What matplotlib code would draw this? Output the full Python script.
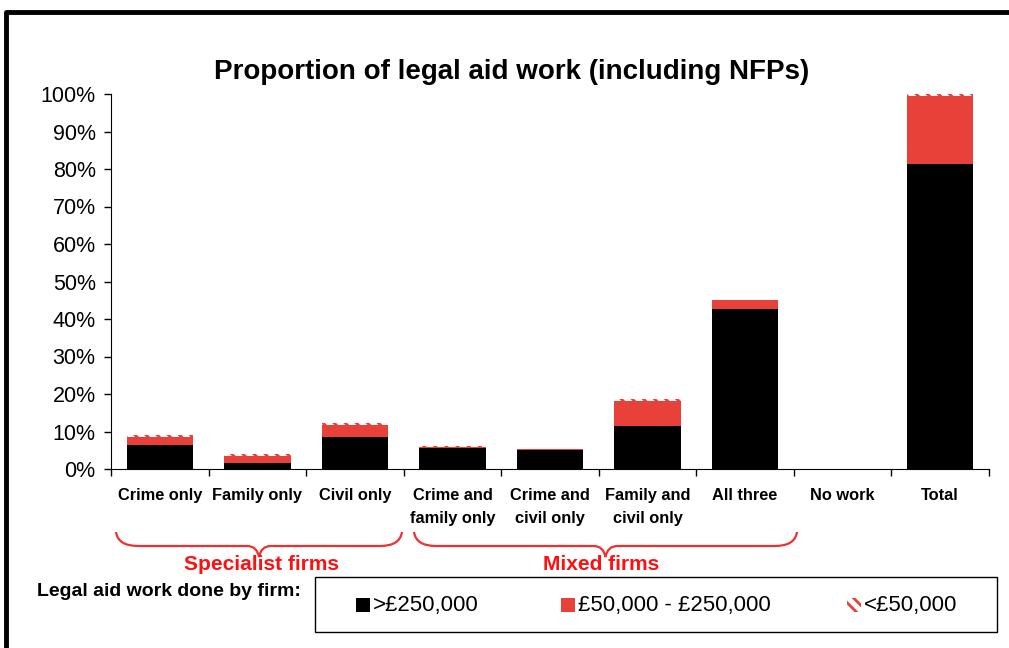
import numpy as np
import matplotlib
matplotlib.use("Agg")
import matplotlib.pyplot as plt
from matplotlib.path import Path
from matplotlib.patches import PathPatch, Rectangle
from matplotlib.ticker import PercentFormatter, FixedLocator

plt.rcParams['font.family'] = ['Liberation Sans', 'DejaVu Sans']

categories = ["Crime only", "Family only", "Civil only", "Crime and\nfamily only",
              "Crime and\ncivil only", "Family and\ncivil only", "All three",
              "No work", "Total"]
over_250k = [6.4, 1.6, 8.5, 5.6, 5.1, 11.5, 42.7, 0.0, 81.3]
mid_50k_250k = [2.1, 1.9, 3.2, 0.3, 0.2, 6.6, 2.3, 0.0, 18.2]
under_50k = [0.5, 0.5, 0.5, 0.3, 0.0, 0.5, 0.0, 0.0, 0.5]
group_labels = ["Specialist firms", "Mixed firms"]
legend_labels = [">£250,000", "£50,000 - £250,000", "<£50,000"]

RED = "#E8413A"
BRACE_RED = "#F03030"
W, H = 1009, 648

fig = plt.figure(figsize=(W / 100, H / 100), dpi=100)
ax = fig.add_axes([111 / W, 1 - 469 / H, (989 - 111) / W, (469 - 94) / H])

x = np.arange(len(categories))
bw = 0.68
b1 = np.array(over_250k)
b2 = b1 + np.array(mid_50k_250k)
ax.bar(x, over_250k, bw, color="black", linewidth=0)
ax.bar(x, mid_50k_250k, bw, bottom=b1, color=RED, linewidth=0)
plt.rcParams['hatch.linewidth'] = 2.0
ax.bar(x, under_50k, bw, bottom=b2, color="white", edgecolor=RED,
       hatch="\\\\\\", linewidth=0)

ax.set_xlim(-0.5, len(categories) - 0.5)
ax.set_ylim(0, 100)
ax.set_yticks(np.arange(0, 101, 10))
ax.yaxis.set_major_formatter(PercentFormatter(decimals=0))
ax.tick_params(axis='y', labelsize=15.5, direction='out', length=5, width=1, pad=6)
ax.xaxis.set_major_locator(FixedLocator(np.arange(-0.5, len(categories), 1)))
ax.xaxis.set_minor_locator(FixedLocator(x))
ax.tick_params(axis='x', which='major', labelbottom=False, direction='out', length=5, width=1)
ax.tick_params(axis='x', which='minor', length=0, pad=14)
ax.set_xticks(x, categories, minor=True, fontsize=11.8, fontweight='bold', linespacing=1.6, va='top')
for s in ["top", "right"]:
    ax.spines[s].set_visible(False)

fig.text(512 / W, 1 - 72 / H, "Proportion of legal aid work (including NFPs)",
         ha='center', va='center', fontsize=20, fontweight='bold')


def brace(x0, x1, ytop, ymid, ytip):
    # curly brace drawn in pixel space, then moved to figure fraction
    xc = (x0 + x1) / 2
    pts = [(x0, ytop), (x0 + 2, ymid), (x0 + 22, ymid), (xc - 12, ymid),
           (xc - 2, ymid), (xc, ytip), (xc + 2, ymid), (xc + 12, ymid),
           (x1 - 22, ymid), (x1 - 2, ymid), (x1, ytop)]
    codes = [Path.MOVETO, Path.CURVE3, Path.CURVE3, Path.LINETO,
             Path.CURVE3, Path.CURVE3, Path.CURVE3, Path.CURVE3,
             Path.LINETO, Path.CURVE3, Path.CURVE3]
    verts = [(px / W, 1 - py / H) for px, py in pts]
    fig.add_artist(PathPatch(Path(verts, codes), transform=fig.transFigure,
                             fill=False, edgecolor=BRACE_RED, linewidth=1.6))


brace(116, 402, 532, 546, 557)
brace(414, 797, 532, 546, 557)
fig.text(262 / W, 1 - 564 / H, group_labels[0], color="#FF1010", fontsize=15,
         fontweight='bold', ha='center', va='center')
fig.text(601 / W, 1 - 564 / H, group_labels[1], color="#FF1010", fontsize=15,
         fontweight='bold', ha='center', va='center')

# legend
fig.text(37 / W, 1 - 592 / H, "Legal aid work done by firm:", fontsize=14,
         fontweight='bold', ha='left', va='center')
fig.add_artist(Rectangle((315 / W, 1 - 632 / H), (997 - 315) / W, (632 - 577) / H,
                         transform=fig.transFigure, fill=False, edgecolor="black", linewidth=1))
sq = 14
leg_x = [356, 561, 847]
styles = [dict(facecolor="black", edgecolor="black"),
          dict(facecolor=RED, edgecolor=RED),
          dict(facecolor="white", edgecolor=RED, hatch="\\\\\\")]
for lx, lab, st in zip(leg_x, legend_labels, styles):
    fig.add_artist(Rectangle((lx / W, 1 - (605 + sq / 2) / H), sq / W, sq / H,
                             transform=fig.transFigure, linewidth=0, **st))
    fig.text((lx + sq + 3) / W, 1 - 605 / H, lab, fontsize=16, ha='left', va='center')

# outer frame (left and top edges)
fig.add_artist(plt.Line2D([6 / W, 6 / W, 1.0], [0, 1 - 12 / H, 1 - 12 / H],
                          transform=fig.transFigure, color="black", linewidth=3.5))

fig.savefig("out.png", dpi=100)
